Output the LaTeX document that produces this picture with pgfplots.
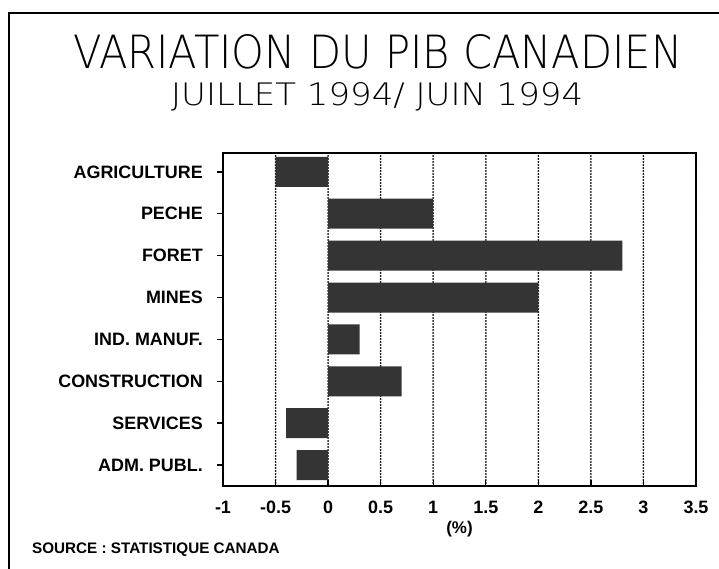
\documentclass[border=0pt]{standalone}
\usepackage{fontspec}
\setmainfont{Liberation Sans}
\newfontfamily\thinfont{DejaVu Sans ExtraLight}
\usepackage{graphicx}
\usepackage{pgfplots}
\pgfplotsset{compat=1.18}
\definecolor{barc}{RGB}{52,52,52}
\begin{document}
\begin{tikzpicture}
\path[use as bounding box] (0,0) rectangle (719bp,569bp);
\draw[line width=2bp] (9bp,0) -- (9bp,555.5bp) -- (719bp,555.5bp);
\node[anchor=base west, inner sep=0] at (73bp,500bp) {\resizebox{609bp}{34bp}{\thinfont VARIATION DU PIB CANADIEN}};
\node[anchor=base west, inner sep=0] at (171bp,463bp) {\resizebox{412bp}{23bp}{\thinfont JUILLET 1994/ JUIN 1994}};
\node[anchor=base west, inner sep=0] at (32bp,16bp) {\fontsize{15.3}{18}\selectfont\bfseries SOURCE : STATISTIQUE CANADA};
\begin{axis}[
  at={(223bp,83bp)}, anchor=south west,
  scale only axis, width=473bp, height=333bp,
  xbar, bar width=30bp,
  xmin=-1, xmax=3.5, ymin=-0.5, ymax=7.45,
  xtick={-1,-0.5,0,0.5,1,1.5,2,2.5,3,3.5},
  xticklabels={{-1},{-0.5},{0},{0.5},{1},{1.5},{2},{2.5},{3},{3.5}},
  ytick={0,1,2,3,4,5,6,7},
  yticklabels={{ADM. PUBL.},{SERVICES},{CONSTRUCTION},{IND. MANUF.},{MINES},{FORET},{PECHE},{AGRICULTURE}},
  axis line style={line width=1.8bp, black},
  xmajorgrids,
  grid style={black, line width=2bp, line cap=round, dash pattern=on 0pt off 3bp},
  tick align=inside, major tick length=6bp,
  tick pos=left,
  ytick style={xshift=-6bp, line width=1.4bp, black},
  xtick style={line width=1.4bp, black},
  ticklabel style={font=\fontsize{18}{21}\selectfont\bfseries, inner sep=0pt},
  yticklabel style={xshift=-20bp},
  xticklabel style={yshift=-15bp},
  xlabel={(\%)},
  xlabel style={at={(axis description cs:0.5,0)}, anchor=north, yshift=-35bp, inner sep=0pt, font=\fontsize{17}{20}\selectfont\bfseries},
]
\addplot[fill=barc, draw=none] coordinates {(-0.3,0) (-0.4,1) (0.7,2) (0.3,3) (2.0,4) (2.8,5) (1.0,6) (-0.5,7)};
\end{axis}
\end{tikzpicture}
\end{document}
